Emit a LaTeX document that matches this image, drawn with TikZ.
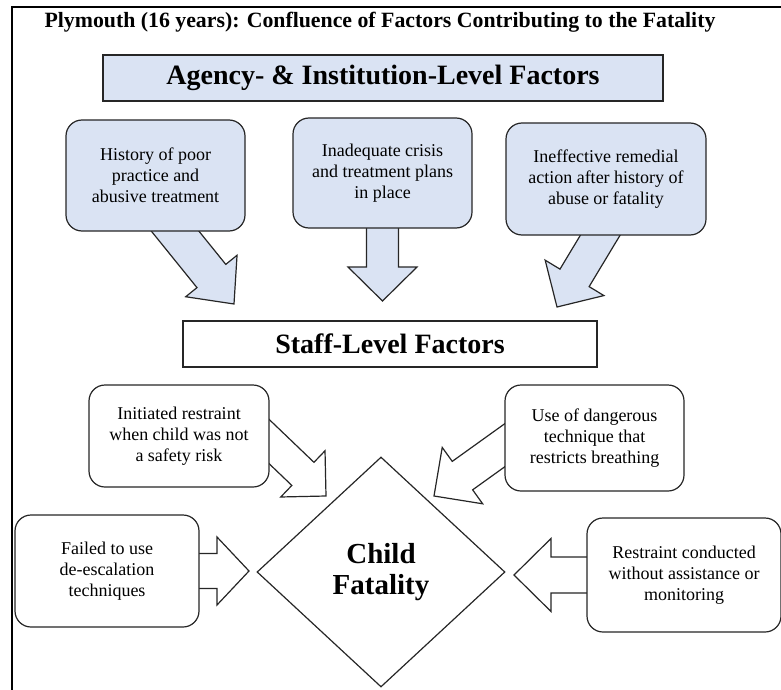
\documentclass[tikz,border=0pt]{standalone}
\usepackage{fontspec}
\setmainfont{Liberation Serif}
\usepackage{tikz}
\usetikzlibrary{calc,shapes.geometric,backgrounds}
\definecolor{paleblue}{RGB}{218, 227, 243}
\definecolor{inkgray}{RGB}{ 38,  38,  38}

\tikzset{
    heading/.style = {draw=inkgray, line width=1.2pt, inner sep=0pt,
                      font=\fontsize{28}{32}\selectfont\bfseries},
    factor/.style  = {draw=inkgray, line width=1.2pt, rounded corners=16pt, inner sep=0pt,
                      align=center, font=\fontsize{18}{21}\selectfont},
    fatline/.style = {draw=inkgray, line width=1.2pt, line join=miter},
}

% block arrow: #2 start on a box edge, #3 tip,
% #4 shaft half width, #5 head half width, #6 head length
\newcommand{\fatarrow}[6][white]{%
    \coordinate (fa-s) at ($(#2)!-25pt!(#3)$);
    \coordinate (fa-t) at (#3);
    \coordinate (fa-h) at ($(fa-t)!#6!(fa-s)$);
    \filldraw[fatline, fill=#1]
        ($(fa-s)!#4!90:(fa-t)$) -- ($(fa-h)!#4!90:(fa-t)$) -- ($(fa-h)!#5!90:(fa-t)$) -- (fa-t)
     -- ($(fa-h)!#5!-90:(fa-t)$) -- ($(fa-h)!#4!-90:(fa-t)$) -- ($(fa-s)!#4!-90:(fa-t)$) -- cycle;
}

\begin{document}
\begin{tikzpicture}[x=1pt, y=-1pt]
    \useasboundingbox (0,0) rectangle (781,690);
    \draw[line width=2.2pt, color=black] (12,690) -- (12,7) -- (781,7);

    \node (title) at (380, 22) {\fontsize{21.8}{24}\selectfont\bfseries Plymouth (16 years): Confluence of Factors Contributing to the Fatality};

    % agency level
    \node[heading, fill=paleblue, minimum width=560pt, minimum height=46pt] (agency)   at (383.0,  78.0) {Agency- \& Institution-Level Factors};
    \node[factor,  fill=paleblue, minimum width=179pt, minimum height=111pt] (hist)    at (155.5, 175.5) {History of poor\\practice and\\abusive treatment};
    \node[factor,  fill=paleblue, minimum width=179pt, minimum height=110pt] (crisis)  at (382.5, 173.0) {Inadequate crisis\\and treatment plans\\in place};
    \node[factor,  fill=paleblue, minimum width=200pt, minimum height=112pt] (remedial) at (606.0, 179.0) {Ineffective remedial\\action after history of\\abuse or fatality};

    % staff level
    \node[heading, fill=white, minimum width=414pt, minimum height=46pt] (staff)      at (390.0, 344.0) {Staff-Level Factors};
    \node[factor,  fill=white, minimum width=180pt, minimum height=102pt] (initiated) at (179.0, 436.0) {Initiated restraint\\when child was not\\a safety risk};
    \node[factor,  fill=white, minimum width=179pt, minimum height=106pt] (danger)    at (594.5, 438.0) {Use of dangerous\\technique that\\restricts breathing};
    \node[factor,  fill=white, minimum width=184pt, minimum height=112pt] (failed)    at (107.0, 571.0) {Failed to use\\de-escalation\\techniques};
    \node[factor,  fill=white, minimum width=194pt, minimum height=114pt] (unassisted) at (684.0, 575.0) {Restraint conducted\\without assistance or\\monitoring};

    \node[diamond, draw=inkgray, line width=1.2pt, inner sep=0pt, minimum width=248pt, minimum height=230pt,
          align=center, font=\fontsize{29}{31}\selectfont\bfseries] (fatal) at (381.0, 572.0) {Child\\Fatality};

    % arrow ends
    \coordinate (hist-out)      at ($(hist.south)+(20,0)$);
    \coordinate (remedial-out)  at ($(remedial.south)+(-6,0)$);
    \coordinate (initiated-out) at ($(initiated.east)+(0,6)$);
    \coordinate (danger-out)    at ($(danger.west)+(0,7.5)$);
    \coordinate (hist-tip)       at (234, 304);
    \coordinate (crisis-tip)     at (382.5, 301);
    \coordinate (remedial-tip)   at (557, 307);
    \coordinate (initiated-tip)  at (326, 496);
    \coordinate (danger-tip)     at (434, 496);
    \coordinate (failed-tip)     at (249, 571);
    \coordinate (unassisted-tip) at (514, 575);

    \begin{scope}[on background layer]
        \fatarrow[paleblue]{hist-out}{hist-tip}{18.5pt}{33pt}{36pt}
        \fatarrow[paleblue]{crisis.south}{crisis-tip}{16pt}{34.5pt}{34pt}
        \fatarrow[paleblue]{remedial-out}{remedial-tip}{17pt}{34.3pt}{34pt}
        \fatarrow{initiated-out}{initiated-tip}{16pt}{32pt}{32pt}
        \fatarrow{danger-out}{danger-tip}{17.5pt}{34.7pt}{35pt}
        \fatarrow{failed.east}{failed-tip}{17.5pt}{34pt}{32pt}
        \fatarrow{unassisted.west}{unassisted-tip}{18pt}{36.5pt}{37pt}
    \end{scope}
\end{tikzpicture}
\end{document}
